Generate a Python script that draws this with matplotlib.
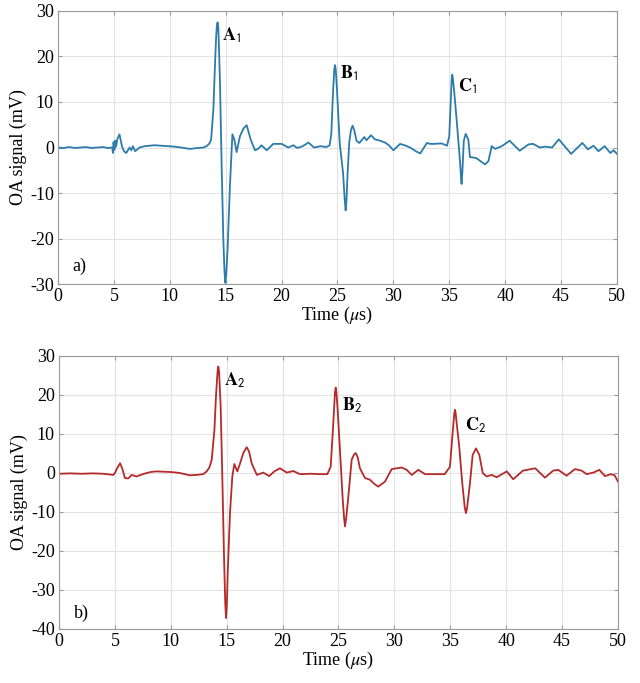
import matplotlib.pyplot as plt

plt.rcParams['font.family'] = ['Liberation Serif', 'DejaVu Serif']
plt.rcParams['mathtext.fontset'] = 'stix'
plt.rcParams['axes.unicode_minus'] = False

# panel a) signal (time in us, signal in mV)
t_a = [0, 0.5, 1, 1.5, 2, 2.5, 3, 3.5, 4, 4.5, 4.85, 4.92, 4.97, 5.05, 5.12, 5.2,
       5.3, 5.5, 5.72, 5.9, 6.1, 6.4, 6.56, 6.7, 6.9, 7.3, 7.75, 8.2, 8.65, 9.2,
       9.8, 10.4, 11.0, 11.8, 12.5, 13.0, 13.3, 13.55, 13.7, 13.9, 14.04, 14.15,
       14.22, 14.28, 14.34, 14.4, 14.49, 14.64, 14.79, 14.9, 14.97, 15.05, 15.18,
       15.38, 15.6, 15.77, 15.98, 16.28, 16.6, 16.88, 17.23, 17.62, 17.9, 18.2,
       18.67, 19.26, 20.0, 20.6, 21.05, 21.4, 21.9, 22.4, 22.9, 23.5, 24.0, 24.3,
       24.45, 24.6, 24.72, 24.78, 24.85, 24.95, 25.2, 25.5, 25.65, 25.73, 25.8,
       25.9, 26.05, 26.2, 26.35, 26.5, 26.7, 26.95, 27.4, 27.6, 28.0, 28.35,
       28.8, 29.25, 29.6, 30.0, 30.6, 31.0, 31.5, 32.0, 32.4, 33.0, 33.3, 33.6,
       34.3, 34.8, 35.0, 35.15, 35.22, 35.27, 35.33, 35.45, 35.66, 35.95, 36.05,
       36.1, 36.18, 36.3, 36.47, 36.7, 36.85, 37.4, 38.2, 38.5, 38.8, 39.1, 39.7,
       40.4, 41.3, 42.1, 42.5, 43.1, 43.6, 44.2, 44.8, 45.9, 46.9, 47.4, 47.9,
       48.35, 48.9, 49.4, 49.7, 50.0]
v_a = [0, -0.1, 0.1, -0.1, 0, 0.1, -0.1, 0, 0.1, -0.1, 0, -1.2, 1.2, -0.5, 1.5, 0.2,
       1.8, 2.9, 0.3, -0.8, -1.2, 0, -0.6, 0.3, -0.8, 0, 0.3, 0.4, 0.5, 0.4,
       0.3, 0.2, 0, -0.3, -0.1, 0, 0.3, 0.9, 1.8, 8.4, 17.9, 24.5,
       27.0, 27.5, 26.5, 22, 14.3, -4.1, -20.2, -27.5, -29.7, -28.0, -21.7,
       -8.5, 2.9, 1.8, -1.0, 2.5, 4.2, 4.9, 1.8, -0.6, -0.3, 0.5,
       -0.6, 0.8, 0.8, 0, 0.5, -0.1, 0.3, 1.1, 0, 0.3, 0.1, 0.5,
       3, 12, 17.3, 18.1, 17.0, 13, 1, -5.6, -11.5, -13.8, -12.0,
       -6, 1, 3.8, 4.8, 3.8, 1.5, 1.0, 2.3, 1.6, 2.7, 1.8,
       1.5, 1.1, 0.5, -0.6, 0.8, 0.5, 0, -0.8, -1.3, 1.0, 0.8, 0.8,
       0.9, 0.4, 2.5, 11, 15.2, 16.0, 15.0, 12, 6.1, -2.7, -6.5,
       -8.0, -5.0, 1.5, 3.0, 1.8, -2.1, -2.3, -3.7, -3.0, 0.3, -0.3, 0.3,
       1.5, -0.7, 0.7, 0.8, 0, 0.2, 0, 1.8, -1.4, 1.0, -0.4, 0.4,
       -0.8, 0.3, -1.2, -0.6, -1.4]

# panel b) signal
t_b = [0, 1, 2, 3, 4, 4.86, 5.0, 5.2, 5.46, 5.65, 5.9, 6.2, 6.5, 6.7, 6.95, 7.4,
       7.85, 8.3, 8.74, 9.6, 10.2, 10.8, 11.7, 12.3, 12.9, 13.2, 13.45, 13.66,
       13.9, 14.04, 14.18, 14.25, 14.32, 14.46, 14.6, 14.76, 14.87, 14.94, 15.01,
       15.09, 15.3, 15.5, 15.68, 15.95, 16.19, 16.5, 16.79, 17.0, 17.24, 17.7,
       18.27, 18.8, 19.3, 19.77, 20.37, 20.96, 21.55, 22.5, 23.5, 24.0, 24.3,
       24.5, 24.68, 24.75, 24.82, 24.95, 25.13, 25.38, 25.5, 25.58, 25.68, 25.88,
       26.18, 26.38, 26.54, 26.72, 26.92, 27.37, 27.8, 28.2, 28.56, 29.16, 29.76,
       30.2, 30.65, 31.1, 31.55, 32.14, 32.74, 33.5, 34.5, 34.97, 35.2, 35.36,
       35.42, 35.48, 35.6, 35.8, 36.07, 36.3, 36.4, 36.5, 36.76, 37.0, 37.3, 37.6,
       37.9, 38.25, 38.7, 39.15, 40.05, 40.63, 41.5, 42.6, 43.47, 44.2, 44.66,
       45.4, 46.15, 46.75, 47.2, 47.8, 48.33, 48.84, 49.37, 49.7, 50.0]
v_b = [-0.2, -0.1, -0.2, -0.1, -0.2, -0.5, 0, 1.2, 2.5, 1.2, -1.3, -1.4, -0.5, -0.7, -0.9, -0.4,
       0, 0.3, 0.4, 0.3, 0.2, 0, -0.6, -0.5, -0.3, 0.4, 1.4, 3.4,
       11, 19.6, 26.0, 27.3, 26.0, 17, 0, -21.4, -33.5, -37.2, -34.0,
       -25.6, -10, -1, 2.3, 0.4, 2.4, 5.2, 6.6, 5.5, 2.4, -0.5,
       0.1, -0.8, 0.5, 1.2, 0.1, 0.5, -0.3, -0.2, -0.3, -0.3, 1.6,
       11, 20.5, 21.9, 20.5, 15, 5.9, -6.9, -11.5, -13.7, -11.8, -6,
       3.4, 4.7, 5.1, 4.0, 1.2, -1.3, -1.7, -2.8, -3.5, -2.2, 1.0,
       1.2, 1.4, 0.8, -0.5, 0.8, -0.3, -0.3, -0.3, 1.6, 10, 15.3,
       16.2, 15.3, 12, 6.8, -2.6, -9.0, -10.3, -9.0, -2.6, 4.6, 6.3, 4.6,
       0, -0.9, -0.5, -1.1, 0.4, -1.6, 0.6, 1.2, -1.2, 0.6, 0.8,
       -0.7, 1.0, 0.6, -0.3, 0.1, 0.8, -0.8, -0.3, -0.6, -2.2]

# peak labels
peaks = ['A', 'B', 'C']
peak_pos_a = [(14.7, 24.6), (25.2, 16.3), (35.8, 13.4)]
peak_pos_b = [(14.8, 23.8), (25.3, 17.4), (36.3, 12.3)]

fig = plt.figure(figsize=(6.4, 6.83), dpi=100)
ax1 = fig.add_axes([0.0906, 0.584, 0.8734, 0.400])
ax2 = fig.add_axes([0.0922, 0.0791, 0.8734, 0.3997])

panels = [
    (ax1, t_a, v_a, '#2b7bab', (-30, 30), range(-30, 31, 10), peak_pos_a, '1', 'a)', -26),
    (ax2, t_b, v_b, '#b52a2a', (-40, 30), range(-40, 31, 10), peak_pos_b, '2', 'b)', -36),
]

for ax, t, v, col, ylim, yt, pos, sub, tag, tag_y in panels:
    ax.plot(t, v, color=col, lw=1.3)
    ax.set_xlim(0, 50)
    ax.set_ylim(*ylim)
    ax.set_xticks(range(0, 51, 5))
    ax.set_yticks(list(yt))
    ax.grid(True, color='#e3e3e3', lw=0.8)
    ax.set_axisbelow(True)
    ax.tick_params(direction='in', top=True, right=True, length=3,
                   labelsize=13, color='#999999', pad=3)
    for s in ax.spines.values():
        s.set_color('#9a9a9a')
        s.set_linewidth(0.8)
    ax.set_xlabel(r'Time ($\mu$s)', fontsize=13, labelpad=0)
    ax.set_ylabel('OA signal (mV)', fontsize=13, labelpad=2)
    for name, (x, y) in zip(peaks, pos):
        ax.text(x, y, r'$\mathbf{%s}_{\mathsf{%s}}$' % (name, sub), fontsize=13,
                ha='left', va='center')
    ax.text(1.3, tag_y, tag, fontsize=13, ha='left', va='center')

fig.savefig('out.png', dpi=100)
